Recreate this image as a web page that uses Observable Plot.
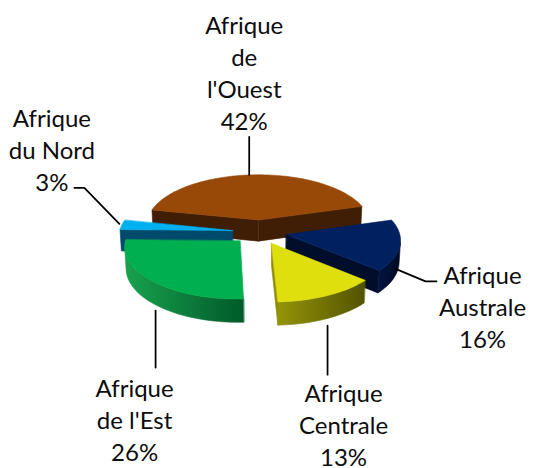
<!DOCTYPE html>
<html><head><meta charset="utf-8">
<script src="https://cdn.jsdelivr.net/npm/d3@7"></script>
<script src="https://cdn.jsdelivr.net/npm/@observablehq/plot@0.6"></script>
<style>html,body{margin:0;padding:0;background:#fff}</style>
</head><body><div id="chart"></div>
<script>
// ---- data ----
const categories = ["Afrique de l'Ouest", "Afrique Australe", "Afrique Centrale", "Afrique de l'Est", "Afrique du Nord"];
const labelLines = [["Afrique", "de", "l'Ouest"], ["Afrique", "Australe"], ["Afrique", "Centrale"], ["Afrique", "de l'Est"], ["Afrique", "du Nord"]];
const percents = [42, 16, 13, 26, 3];

// ---- styles ----
const topColors   = ["#984807", "#002060", "#dfdf0d", "#00b050", "#00b0f0"];
const sideLight   = ["#3f1e05", "#001440", "#949408", "#18a24e", "#004a6c"];
const sideDark    = ["#3f1e05", "#000a24", "#525200", "#005a2a", "#004a6c"];
const radialColor = ["#3f1e05", "#000d2b", "#8c8c08", "#0a8a40", "#004a6c"];

// ---- layout (label placement relative to the slice rim point) ----
const labelLayout = [
  {hf: 1, leader: [[-5, 0], [-5, -38]], text: [-10, -103]},
  {hf: 0, leader: [[-4, 1], [27, 14], [38, 14]], text: [84, 38]},
  {hf: 0, leader: [[1, 7], [1, 56]], text: [17, 105]},
  {hf: 0, leader: [[1.5, 6.5], [1.5, 63.5]], text: [-19.5, 114.5]},
  {hf: 1, leader: [[-2.5, -1], [-37.5, -37], [-47.5, -37]], text: [-70, -76.5]}
];

const W = 533, H = 468;
const cx = 259, cy = 253, S = 112, dist = 10, sinP = 0.47, cosP = Math.sqrt(1 - sinP * sinP);
const thick = 0.215, explode = 0.24, startAngle = -78;
const rad = Math.PI / 180;
const camD = -dist * cosP;

function proj(X, D, Hh) {
  const yc = D * sinP + Hh * cosP;
  const zc = dist + D * cosP - Hh * sinP;
  const s = dist / zc;
  return [cx + S * X * s, cy - S * yc * s];
}
function visible(nx, nd, px, pd) { return nx * (0 - px) + nd * (camD - pd) > 0; }

const total = d3.sum(percents);
let acc = startAngle;
const slices = percents.map((p, i) => {
  const a0 = acc, a1 = acc + p / total * 360; acc = a1;
  const mid = (a0 + a1) / 2;
  const ox = explode * Math.sin(mid * rad), od = explode * Math.cos(mid * rad);
  return {i, a0, a1, mid, ox, od, key: od + 0.5 * Math.cos(mid * rad)};
});

const faceRows = [];
const gradients = [];
let faceId = 0;
function addFace(pts, color) {
  const id = faceId++;
  pts.forEach(([x, y]) => faceRows.push({face: id, x, y, fill: color}));
}

slices.slice().sort((a, b) => b.key - a.key).forEach(sl => {
  const {i, a0, a1, ox, od} = sl;
  const rim = (t, h) => proj(ox + Math.sin(t * rad), od + Math.cos(t * rad), h);
  const apex = h => proj(ox, od, h);
  const steps = Math.max(2, Math.ceil((a1 - a0) / 2));
  const arc = d3.range(steps + 1).map(k => a0 + (a1 - a0) * k / steps);
  // radial faces
  [[a0, a0 - 90], [a1, a1 + 90]].forEach(([t, nA]) => {
    const nx = Math.sin(nA * rad), nd = Math.cos(nA * rad);
    const px = ox + 0.5 * Math.sin(t * rad), pd = od + 0.5 * Math.cos(t * rad);
    if (visible(nx, nd, px, pd)) addFace([apex(thick), rim(t, thick), rim(t, 0), apex(0)], radialColor[i]);
  });
  // outer wall: visible arc run as one polygon with a left-to-right gradient
  const vis = arc.filter(t => visible(Math.sin(t * rad), Math.cos(t * rad), ox + Math.sin(t * rad), od + Math.cos(t * rad)));
  if (vis.length > 1) {
    const topPts = vis.map(t => rim(t, thick)), botPts = vis.map(t => rim(t, 0)).reverse();
    const pts = [...topPts, ...botPts];
    const [mn, mx] = d3.extent(pts, p => p[0]);
    const id = "wall" + i;
    gradients.push({id, x1: mn, x2: mx, c1: sideLight[i], c2: sideDark[i]});
    addFace(pts, `url(#${id})`);
  }
  // top face
  addFace([apex(thick), ...arc.map(t => rim(t, thick))], topColors[i]);
});

// labels and leaders
const leaderRows = [], textRows = [];
slices.forEach(sl => {
  const L = labelLayout[sl.i];
  const [ax, ay] = proj(sl.ox + Math.sin(sl.mid * rad), sl.od + Math.cos(sl.mid * rad), L.hf * thick);
  L.leader.forEach(([dx, dy]) => leaderRows.push({id: sl.i, x: ax + dx, y: ay + dy}));
  textRows.push({x: ax + L.text[0], y: ay + L.text[1], label: [...labelLines[sl.i], percents[sl.i] + "%"].join("\n"), name: categories[sl.i]});
});

const chart = Plot.plot({
  width: W, height: H, margin: 0,
  x: {domain: [0, W], range: [0, W], axis: null},
  y: {domain: [0, H], range: [0, H], axis: null},
  color: {type: "identity"},
  marks: [
    Plot.line(faceRows, {x: "x", y: "y", z: "face", fill: "fill", stroke: "fill", strokeWidth: 0.6, strokeLinejoin: "round", curve: "linear-closed"}),
    Plot.line(leaderRows, {x: "x", y: "y", z: "id", stroke: "#000", strokeWidth: 1.75}),
    Plot.text(textRows, {x: "x", y: "y", text: "label", fontSize: 24, lineHeight: 1.333, lineAnchor: "middle", textAnchor: "middle", fontFamily: "Lato", fill: "#0d0d0d"})
  ]
});
// gradient definitions for the curved walls
const ns = "http://www.w3.org/2000/svg";
const defs = document.createElementNS(ns, "defs");
gradients.forEach(g => {
  const lg = document.createElementNS(ns, "linearGradient");
  lg.setAttribute("id", g.id);
  lg.setAttribute("gradientUnits", "userSpaceOnUse");
  lg.setAttribute("x1", g.x1); lg.setAttribute("x2", g.x2);
  lg.setAttribute("y1", 0); lg.setAttribute("y2", 0);
  [[0, g.c1], [1, g.c2]].forEach(([o, c]) => {
    const st = document.createElementNS(ns, "stop");
    st.setAttribute("offset", o); st.setAttribute("stop-color", c);
    lg.appendChild(st);
  });
  defs.appendChild(lg);
});
chart.insertBefore(defs, chart.firstChild);
document.getElementById("chart").appendChild(chart);
</script></body></html>
